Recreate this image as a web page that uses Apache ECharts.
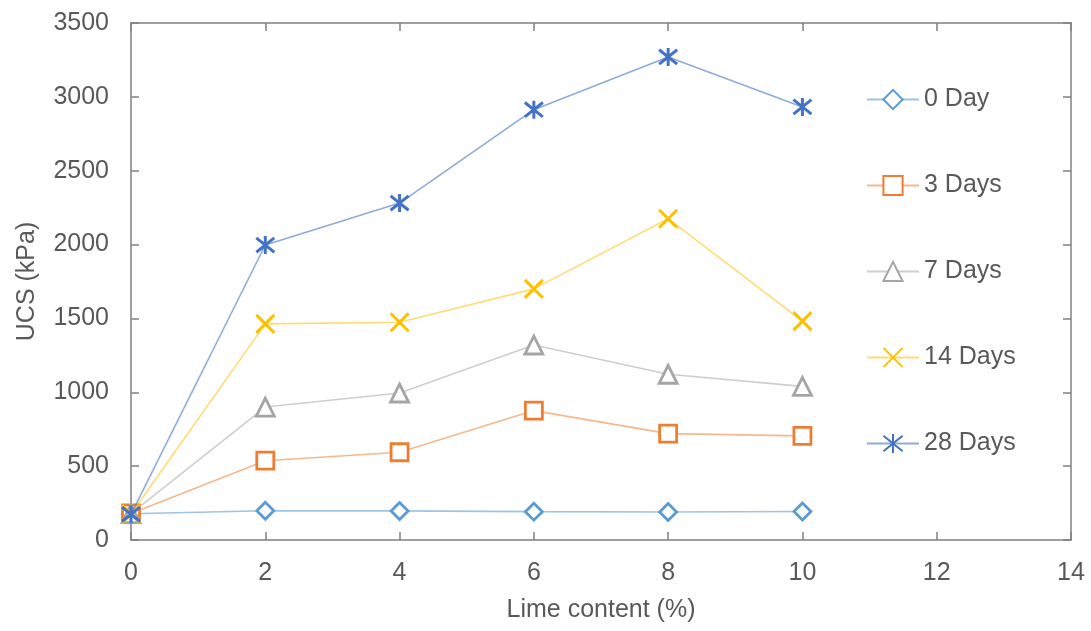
<!DOCTYPE html>
<html><head><meta charset="utf-8">
<script src="https://cdn.jsdelivr.net/npm/echarts@6/dist/echarts.min.js"></script>
<style>html,body{margin:0;padding:0;background:#fff}#c{width:1091px;height:631px}</style>
</head><body><div id="c"></div>
<script>
var limeContent = [0, 2, 4, 6, 8, 10];
var seriesNames = ['0 Day', '3 Days', '7 Days', '14 Days', '28 Days'];
var day0 = [178, 198, 197, 192, 190, 193];
var day3 = [180, 537, 594, 876, 720, 705];
var day7 = [178, 900, 995, 1320, 1122, 1040];
var day14 = [176, 1463, 1474, 1700, 2175, 1482];
var day28 = [174, 1997, 2281, 2913, 3270, 2932];
var xTicks = [0, 14, 2];
var yTicks = [0, 3500, 500];

var markerColors = ['#5B9BD5', '#ED7D31', '#A5A5A5', '#FFC000', '#4472C4'];
var lineColors = ['rgba(91,155,213,0.6)', 'rgba(237,125,49,0.55)', 'rgba(165,165,165,0.55)', 'rgba(255,192,0,0.55)', 'rgba(68,114,196,0.6)'];
var allData = [day0, day3, day7, day14, day28];
var symbols = ['diamond', 'rect', 'triangle',
  'path://M0 0 L10 10 M10 0 L0 10',
  'path://M1 1 L9 9 M9 1 L1 9 M5 0 L5 10'];
var sizes = [17, 17, 18, 18, 18];
var font = "'Liberation Sans', Arial, sans-serif";
var axisColor = '#808080';
var textColor = '#595959';

var series = allData.map(function (d, i) {
  var isPath = i >= 3;
  return {
    name: seriesNames[i],
    type: 'line',
    data: limeContent.map(function (x, j) { return [x, d[j]]; }),
    symbol: symbols[i],
    symbolSize: sizes[i],
    showAllSymbol: true,
    lineStyle: { color: lineColors[i], width: 1.6 },
    itemStyle: {
      color: isPath ? 'rgba(0,0,0,0)' : '#fff',
      borderColor: markerColors[i],
      borderWidth: isPath ? 3 : 2.8
    },
    emphasis: { disabled: true },
    z: 2 + i
  };
});

var baseAxis = {
  axisLine: { show: true, onZero: false, lineStyle: { color: axisColor, width: 1.5 } },
  axisTick: { show: true, inside: true, length: 8, lineStyle: { color: axisColor, width: 1.5 } },
  splitLine: { show: false }
};
var plain = function (v) { return String(v); };

var option = {
  animation: false,
  backgroundColor: '#fff',
  grid: { left: 131, right: 20, top: 23, bottom: 91, containLabel: false },
  legend: {
    orient: 'vertical',
    left: 861,
    top: 82,
    itemWidth: 52,
    itemHeight: 24,
    itemGap: 61,
    textStyle: { fontFamily: font, fontSize: 25, color: textColor },
    data: seriesNames
  },
  xAxis: [
    Object.assign({}, baseAxis, {
      type: 'value', min: xTicks[0], max: xTicks[1], interval: xTicks[2],
      name: 'Lime content (%)', nameLocation: 'middle', nameGap: 58,
      nameTextStyle: { fontFamily: font, fontSize: 25, color: textColor },
      axisLabel: { fontFamily: font, fontSize: 25, color: textColor, margin: 21, formatter: plain }
    }),
    Object.assign({}, baseAxis, {
      type: 'value', position: 'top', min: xTicks[0], max: xTicks[1], interval: xTicks[2],
      axisLabel: { show: false }
    })
  ],
  yAxis: [
    Object.assign({}, baseAxis, {
      type: 'value', min: yTicks[0], max: yTicks[1], interval: yTicks[2],
      name: 'UCS (kPa)', nameLocation: 'middle', nameGap: 91,
      nameTextStyle: { fontFamily: font, fontSize: 25, color: textColor },
      axisLabel: { fontFamily: font, fontSize: 25, color: textColor, margin: 22, formatter: plain }
    }),
    Object.assign({}, baseAxis, {
      type: 'value', position: 'right', min: yTicks[0], max: yTicks[1], interval: yTicks[2],
      axisLabel: { show: false }
    })
  ],
  series: series
};
var chart = echarts.init(document.getElementById('c'), null, { renderer: 'canvas' });
chart.setOption(option);
</script>
</body></html>
